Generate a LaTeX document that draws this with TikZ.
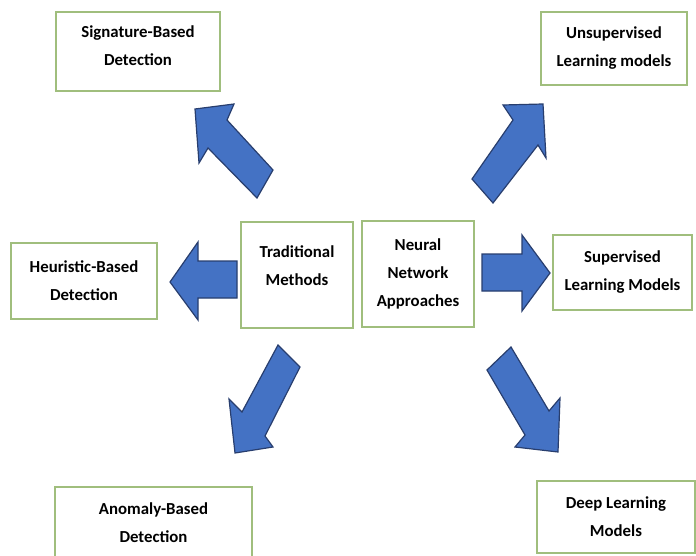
\documentclass[tikz,border=0pt]{standalone}
\usepackage{fontspec}
\setmainfont{Carlito}
\begin{document}
\begin{tikzpicture}[x=1pt,y=-1pt,
  box/.style={draw=boxgreen, line width=1.4pt, fill=white, align=center,
    font=\bfseries\fontsize{16.8}{28}\selectfont, inner sep=0pt},
  blockarrow/.style={draw=arrowedge, fill=arrowblue, line width=1.2pt, line join=miter}]
\definecolor{boxgreen}{RGB}{160,190,125}
\definecolor{arrowblue}{RGB}{68,114,196}
\definecolor{arrowedge}{RGB}{40,62,110}
\useasboundingbox (0,0) rectangle (696,556);
\clip (0,0) rectangle (696,556);

% boxes
\node[box, minimum width=164pt, minimum height=79pt, text depth=11pt] (sig) at (138,51.5) {Signature-Based\\Detection};
\node[box, minimum width=146pt, minimum height=73pt] (unsup) at (614,48.5) {Unsupervised\\Learning models};
\node[box, minimum width=112pt, minimum height=106pt, text depth=18pt] (trad) at (297,275) {Traditional\\Methods};
\node[box, minimum width=112pt, minimum height=106pt] (neural) at (418,274) {Neural\\Network\\Approaches};
\node[box, minimum width=146pt, minimum height=76pt] (heur) at (84,281) {Heuristic-Based\\Detection};
\node[box, minimum width=139pt, minimum height=75pt] (sup) at (622.5,272.5) {Supervised\\Learning Models};
\node[box, minimum width=197pt, minimum height=84pt, text depth=12pt] (anom) at (153.5,529) {Anomaly-Based\\Detection};
\node[box, minimum width=158pt, minimum height=72pt] (deep) at (616,517) {Deep Learning\\Models};

% block arrows from the two centre boxes
\draw[blockarrow] (195,109) -- (234,104) -- (227,120) -- (273,170) -- (257,198) -- (208,148) -- (199,163) -- cycle;
\draw[blockarrow] (543,104) -- (503,105) -- (513,120) -- (472,179) -- (493,203) -- (538,145) -- (546,158) -- cycle;
\draw[blockarrow] (170,282) -- (198,242) -- (198,261) -- (237,261) -- (237,298) -- (198,298) -- (198,320) -- cycle;
\draw[blockarrow] (550,273) -- (522,235) -- (522,254) -- (482,254) -- (482,291) -- (522,291) -- (522,311) -- cycle;
\draw[blockarrow] (235,453) -- (229,399) -- (242,412) -- (278,345) -- (300,367) -- (265,436) -- (273,447) -- cycle;
\draw[blockarrow] (558,452) -- (560,398) -- (549,411) -- (511,347) -- (487,370) -- (525,435) -- (515,447) -- cycle;
\end{tikzpicture}
\end{document}
